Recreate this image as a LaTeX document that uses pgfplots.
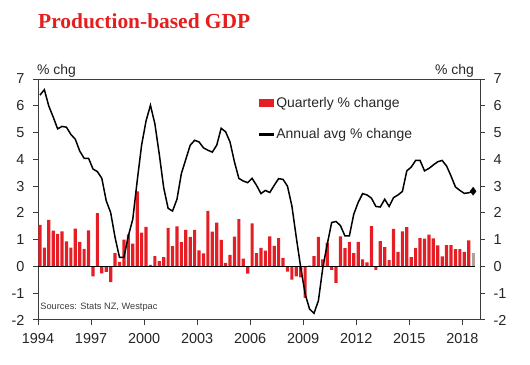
\documentclass[border=0pt]{standalone}
\usepackage{pgfplots}
\pgfplotsset{compat=1.18}
\usepackage{pgfplotstable}
\usepackage{fontspec}
\setmainfont{Liberation Sans}
\newfontfamily\titlefont{Liberation Serif}
\definecolor{barred}{RGB}{228,30,36}
\definecolor{bargrey}{RGB}{172,162,152}
\definecolor{titlered}{RGB}{230,30,30}
\definecolor{axgrey}{RGB}{60,60,60}

\pgfplotstableread{
i q a
0 1.55 6.40
1 0.70 6.60
2 1.74 5.99
3 1.34 5.58
4 1.22 5.14
5 1.31 5.23
6 0.94 5.20
7 0.70 4.93
8 1.41 4.75
9 0.92 4.31
10 0.66 4.04
11 1.35 4.04
12 -0.37 3.64
13 1.99 3.54
14 -0.26 3.29
15 -0.20 2.45
16 -0.59 2.01
17 0.50 1.08
18 0.17 0.34
19 1.00 0.34
20 1.20 1.14
21 0.85 1.76
22 2.80 3.19
23 1.26 4.53
24 1.48 5.43
25 0.06 6.02
26 0.39 5.33
27 0.20 4.19
28 0.35 2.94
29 1.44 2.17
30 0.76 2.07
31 1.50 2.51
32 0.91 3.47
33 1.37 4.00
34 1.10 4.53
35 1.37 4.71
36 0.60 4.65
37 0.49 4.43
38 2.08 4.34
39 1.30 4.27
40 1.64 4.53
41 0.99 5.16
42 0.13 5.03
43 0.43 4.65
44 1.11 3.91
45 1.77 3.29
46 0.29 3.19
47 -0.27 3.13
48 1.61 3.29
49 0.50 3.03
50 0.69 2.72
51 0.59 2.84
52 1.12 2.76
53 0.77 3.03
54 1.06 3.28
55 0.32 3.25
56 -0.19 3.00
57 -0.49 2.26
58 -0.37 1.08
59 -0.41 -0.04
60 -1.17 -1.03
61 0.03 -1.59
62 0.39 -1.75
63 1.10 -1.28
64 0.26 -0.04
65 0.89 0.83
66 -0.13 1.64
67 -0.61 1.68
68 1.12 1.52
69 0.68 1.14
70 0.92 1.14
71 0.50 1.95
72 0.92 2.39
73 0.26 2.72
74 0.15 2.67
75 1.51 2.55
76 -0.13 2.24
77 0.95 2.22
78 0.72 2.51
79 0.24 2.24
80 1.40 2.57
81 0.54 2.67
82 1.31 2.80
83 1.47 3.57
84 0.35 3.71
85 0.68 3.96
86 1.06 3.96
87 1.04 3.57
88 1.19 3.66
89 1.05 3.79
90 0.79 3.91
91 0.38 3.96
92 0.80 3.75
93 0.80 3.38
94 0.65 2.97
95 0.65 2.84
96 0.54 2.73
97 0.97 2.75
98 0.50 2.81
}\gdp

\begin{document}
\begin{tikzpicture}
\useasboundingbox (0,0) rectangle (530bp,365bp);
\node[anchor=base west, font=\titlefont\bfseries\fontsize{21.5}{24}\selectfont, text=titlered, inner sep=0pt] at (38bp,336bp) {Production-based GDP};
\node[anchor=base west, font=\fontsize{14}{16}\selectfont, inner sep=0pt, text=black!85] at (37bp,290bp) {\% chg};
\node[anchor=base east, font=\fontsize{14}{16}\selectfont, inner sep=0pt, text=black!85] at (474bp,290bp) {\% chg};

\begin{axis}[
  at={(38bp,45bp)}, anchor=south west, scale only axis,
  width=442bp, height=241bp,
  xmin=1994, xmax=2019, ymin=-2, ymax=7,
  xtick={1994,1997,2000,2003,2006,2009,2012,2015,2018},
  ytick={-2,-1,0,1,2,3,4,5,6,7},
  /pgf/number format/1000 sep={},
  /pgf/number format/assume math mode=true,
  tick align=outside, xtick pos=bottom, ytick pos=left,
  major tick length=5bp,
  axis line style={axgrey, line width=1bp},
  tick style={axgrey, line width=1bp},
  tick label style={font=\fontsize{14.5}{17}\selectfont, text=black!85},
  xticklabel style={yshift=-5bp},
  yticklabel style={xshift=-5bp},
  legend style={at={(0.497,0.93)}, anchor=north west, draw=none, fill=none,
    font=\fontsize{14}{16}\selectfont, text=black!85, row sep=18bp, inner sep=0pt,
    nodes={inner sep=1bp}},
  legend cell align=left,
  clip=false,
]
\addplot[ybar, bar shift=0pt, bar width=0.18, fill=barred, draw=none,
  legend image code/.code={\fill[barred] (0bp,-4bp) rectangle (15bp,4bp);}]
  table[x expr=1994.11+0.25*\thisrow{i}, y=q, skip coords between index={98}{99}] {\gdp};
\addlegendentry{Quarterly \% change}
\addplot[ybar, bar shift=0pt, bar width=0.18, fill=bargrey, draw=none, forget plot]
  table[x expr=1994.11+0.25*\thisrow{i}, y=q, skip coords between index={0}{98}] {\gdp};
\addplot[black, line width=1bp, forget plot] coordinates {(1994,0) (2018.72,0)};
\addplot[black, line width=1.5bp, mark=none,
  legend image code/.code={\draw[black, line width=2.5bp] (0bp,0bp) -- (15bp,0bp);}]
  table[x expr=1994.11+0.25*\thisrow{i}, y=a] {\gdp};
\addlegendentry{Annual avg \% change}
\addplot[only marks, mark=diamond*, mark size=4bp, black, forget plot]
  table[x expr=1994.11+0.25*\thisrow{i}, y=a, skip coords between index={0}{98}] {\gdp};
\node[anchor=base west, font=\fontsize{9.3}{11}\selectfont, text=axgrey, inner sep=0pt] at (rel axis cs:0.005,0.042) {Sources: Stats NZ, Westpac};
\end{axis}

\begin{axis}[
  at={(38bp,45bp)}, anchor=south west, scale only axis,
  width=442bp, height=241bp,
  xmin=1994, xmax=2019, ymin=-2, ymax=7,
  xtick=\empty,
  ytick={-2,-1,0,1,2,3,4,5,6,7},
  /pgf/number format/assume math mode=true,
  tick align=outside, ytick pos=right, yticklabel pos=right,
  major tick length=5bp,
  axis line style={draw=none},
  tick style={axgrey, line width=1bp},
  tick label style={font=\fontsize{14.5}{17}\selectfont, text=black!85},
  yticklabel style={xshift=5bp},
]
\end{axis}
\end{tikzpicture}
\end{document}
